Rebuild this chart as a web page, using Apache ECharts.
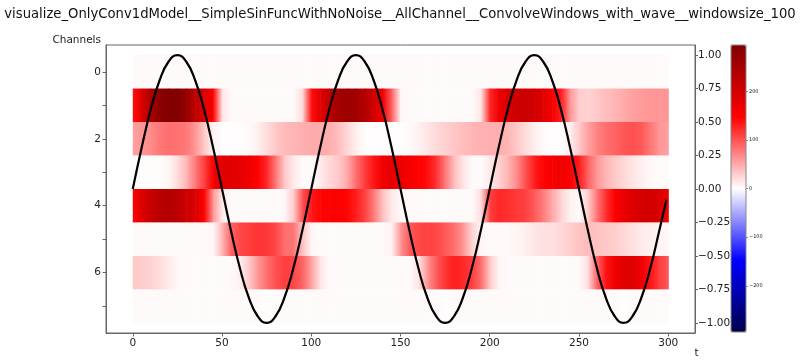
<!DOCTYPE html>
<html>
<head>
<meta charset="utf-8">
<script src="https://cdn.jsdelivr.net/npm/echarts@6/dist/echarts.min.js"></script>
<style>html,body{margin:0;padding:0;background:#fff}#c{width:800px;height:360px}</style>
</head>
<body>
<div id="c"></div>
<script>
// ---- data ----
var titleText = 'visualize_OnlyConv1dModel__SimpleSinFuncWithNoNoise__AllChannel__ConvolveWindows_with_wave__windowsize_100';
var channels = [0, 1, 2, 3, 4, 5, 6, 7];
// sample positions along t for the activation maps
var tSamples = [0,5,10,15,20,25,30,35,40,45,50,55,60,65,70,75,80,85,90,95,100,105,110,115,120,125,130,135,140,145,150,155,160,165,170,175,180,185,190,195,200,205,210,215,220,225,230,235,240,245,250,255,260,265,270,275,280,285,290,295,300];
var ch0 = [3,3,3,3,3,3,3,3,3,3,3,3,3,3,3,3,3,3,3,3,3,3,3,3,3,3,3,3,3,3,3,3,3,3,3,3,3,3,3,3,3,3,3,3,3,3,3,3,3,3,3,3,3,3,3,3,3,3,3,3,3];
var ch1 = [140,188,245,280,290,290,270,222,190,150,15,3,3,3,3,3,3,3,3,20,140,180,222,255,262,255,234,200,165,90,5,3,3,3,3,3,3,3,3,15,125,165,194,205,205,200,182,158,130,60,29,26,32,38,43,49,55,58,61,61,61];
var ch2 = [55,61,67,78,84,82,78,61,32,6,1,1,1,3,9,20,32,40,43,46,49,49,46,38,23,9,2,1,1,1,2,3,8,15,22,28,33,38,42,45,46,46,43,32,20,9,3,1,2,9,32,55,72,84,90,98,101,96,78,61,55];
var ch3 = [2,2,2,2,6,20,43,78,112,158,182,182,175,165,147,125,78,32,12,3,3,12,23,32,49,84,112,136,165,175,170,158,147,142,118,78,38,15,3,3,12,26,43,67,101,130,147,158,165,152,130,90,61,43,32,23,15,9,4,3,3];
var ch4 = [150,188,211,228,234,222,205,190,150,60,12,3,3,3,3,3,3,5,30,100,135,145,150,150,145,130,110,75,35,12,4,3,3,3,3,3,3,3,3,20,110,125,120,115,110,95,75,50,25,8,3,30,80,120,150,170,185,195,200,190,160];
var ch5 = [3,3,3,3,3,3,3,3,3,5,43,90,107,112,118,115,107,84,80,35,5,3,3,3,3,3,3,3,3,8,61,96,107,110,107,96,84,61,26,6,3,3,4,6,9,15,18,18,23,29,35,38,35,32,29,23,18,12,9,6,5];
var ch6 = [32,29,26,20,12,4,3,3,3,3,3,3,9,32,61,84,101,112,107,90,55,15,3,3,3,3,3,3,3,3,3,3,15,61,96,118,130,125,112,84,32,6,3,3,3,3,3,3,3,3,3,20,90,136,165,182,182,165,136,112,96];
var ch7 = [3,3,3,3,3,3,3,3,3,3,3,3,3,3,3,1,3,3,3,3,3,3,3,3,3,3,3,3,3,3,3,3,3,3,3,1,3,3,3,3,3,3,3,3,3,3,3,3,3,3,3,3,3,3,3,1,3,3,3,3,3];
// overlaid wave (right axis)
var waveT = [0,5,10,15,20,25,30,35,40,45,50,55,60,65,70,75,80,85,90,95,100,105,110,115,120,125,130,135,140,145,150,155,160,165,170,175,180,185,190,195,200,205,210,215,220,225,230,235,240,245,250,255,260,265,270,275,280,285,290,295,299];
var waveV = [0,0.31,0.59,0.81,0.95,1,0.95,0.81,0.59,0.31,0,-0.31,-0.59,-0.81,-0.95,-1,-0.95,-0.81,-0.59,-0.31,
             0,0.31,0.59,0.81,0.95,1,0.95,0.81,0.59,0.31,0,-0.31,-0.59,-0.81,-0.95,-1,-0.95,-0.81,-0.59,-0.31,
             0,0.31,0.59,0.81,0.95,1,0.95,0.81,0.59,0.31,0,-0.31,-0.59,-0.81,-0.95,-1,-0.95,-0.81,-0.59,-0.31,-0.08];
var xTicks = [0, 50, 100, 150, 200, 250, 300];
var chTicks = [0, 1, 2, 3, 4, 5, 6, 7];
var chLabels = [0, 2, 4, 6];
var waveTicks = [-1, -0.75, -0.5, -0.25, 0, 0.25, 0.5, 0.75, 1];
var cbarTicks = [-200, -100, 0, 100, 200];
var cbarMin = -295, cbarMax = 295;

// ---- build ----
var chValues = [ch0, ch1, ch2, ch3, ch4, ch5, ch6, ch7];
var seismic = ['#00004c', '#0000ff', '#ffffff', '#ff0000', '#7f0000'];
function colorOf(v) {
  var t = (v - cbarMin) / (cbarMax - cbarMin);
  t = Math.max(0, Math.min(1, t));
  return echarts.color.lerp(t, seismic);
}
var segData = [];
channels.forEach(function (c) {
  var vals = chValues[c];
  for (var i = 0; i < tSamples.length - 1; i++) {
    segData.push([tSamples[i], c, vals[i], tSamples[i + 1], vals[i + 1]]);
  }
});
var waveData = waveT.map(function (t, i) { return [t, waveV[i]]; });

var FONT = 'DejaVu Sans';
var axisGray = '#666';
var TICKFS = 10.5;
var chart = echarts.init(document.getElementById('c'), null, { renderer: 'canvas' });
chart.setOption({
  animation: false,
  backgroundColor: '#fff',
  textStyle: { fontFamily: FONT },
  grid: [
    { left: 106, top: 45, width: 589, height: 288, show: true, borderColor: axisGray, borderWidth: 1, backgroundColor: 'transparent' },
    { left: 731, top: 45, width: 15, height: 287, show: false }
  ],
  xAxis: [
    {
      type: 'value', gridIndex: 0, min: -15, max: 315,
      name: 't', nameLocation: 'end', nameGap: 0,
      nameTextStyle: { fontSize: TICKFS, color: '#222', align: 'center', verticalAlign: 'top', padding: [15, 0, 0, 3] },
      axisLine: { show: true, onZero: false, lineStyle: { color: axisGray, width: 1 } },
      axisTick: { show: true, customValues: xTicks, length: 3.5, lineStyle: { color: axisGray } },
      axisLabel: { customValues: xTicks, fontSize: TICKFS, color: '#222', margin: 5 },
      splitLine: { show: false }
    },
    { type: 'value', gridIndex: 1, min: 0, max: 1, show: false }
  ],
  yAxis: [
    {
      type: 'value', gridIndex: 0, inverse: true, min: -0.8, max: 7.8, position: 'left',
      name: 'Channels', nameLocation: 'start', nameGap: -1,
      nameTextStyle: { fontSize: 10.5, color: '#222', align: 'right', verticalAlign: 'bottom', padding: [0, 5, 0, 0] },
      axisLine: { show: true, onZero: false, lineStyle: { color: axisGray, width: 1 } },
      axisTick: { show: true, customValues: chTicks, length: 3.5, lineStyle: { color: axisGray } },
      axisLabel: { customValues: chLabels, fontSize: TICKFS, color: '#222', margin: 5 },
      splitLine: { show: false }
    },
    {
      type: 'value', gridIndex: 0, min: -1.075, max: 1.075, position: 'right',
      axisLine: { show: true, onZero: false, lineStyle: { color: axisGray, width: 1 } },
      axisTick: { show: true, customValues: waveTicks, length: 3, lineStyle: { color: axisGray } },
      axisLabel: {
        customValues: waveTicks, fontSize: TICKFS, color: '#222', margin: 3,
        formatter: function (v) { return v.toFixed(2).replace('-', '\u2212'); }
      },
      splitLine: { show: false }
    },
    {
      type: 'value', gridIndex: 1, min: cbarMin, max: cbarMax, position: 'right',
      axisLine: { show: false, onZero: false },
      axisTick: { show: true, customValues: cbarTicks, length: 2, lineStyle: { color: '#444', width: 0.6 } },
      axisLabel: {
        customValues: cbarTicks, fontSize: 5, color: '#222', margin: 3,
        formatter: function (v) { return String(v).replace('-', '\u2212'); }
      },
      splitLine: { show: false }
    }
  ],
  visualMap: {
    type: 'continuous', min: cbarMin, max: cbarMax, calculable: false,
    seriesIndex: 0, dimension: 2,
    left: 731, top: 45, itemWidth: 15, itemHeight: 287, padding: 0,
    inRange: { color: seismic }, hoverLink: false
  },
  graphic: [
    {
      type: 'text', x: 400, y: 14, scaleX: 0.91, z: 100,
      style: { text: titleText, font: '14.5px "DejaVu Sans"', fill: '#111', textAlign: 'center', textVerticalAlign: 'middle' }
    },
    { type: 'rect', shape: { x: 731, y: 45, width: 15, height: 287 }, style: { fill: 'none', stroke: '#888', lineWidth: 1 }, z: 100 }
  ],
  series: [
    {
      type: 'custom', xAxisIndex: 0, yAxisIndex: 0, data: segData, z: 1,
      encode: { x: [0, 3], y: 1 },
      renderItem: function (params, api) {
        var x0 = api.value(0), c = api.value(1), x1 = api.value(3);
        var v0 = api.value(2), v1 = api.value(4);
        var p0 = api.coord([x0, c - 0.5]);
        var p1 = api.coord([x1, c + 0.5]);
        var x = Math.min(p0[0], p1[0]), y = Math.min(p0[1], p1[1]);
        var w = Math.abs(p1[0] - p0[0]), h = Math.abs(p1[1] - p0[1]);
        return {
          type: 'rect',
          shape: { x: x, y: y, width: w + 0.6, height: h + 0.3 },
          style: {
            fill: new echarts.graphic.LinearGradient(0, 0, 1, 0, [
              { offset: 0, color: colorOf(v0) }, { offset: 1, color: colorOf(v1) }
            ]),
            stroke: null
          }
        };
      }
    },
    {
      type: 'line', xAxisIndex: 0, yAxisIndex: 1, data: waveData, z: 5,
      showSymbol: false, symbol: 'none', smooth: true,
      lineStyle: { color: '#000', width: 2.2 }
    }
  ]
});
</script>
</body>
</html>
